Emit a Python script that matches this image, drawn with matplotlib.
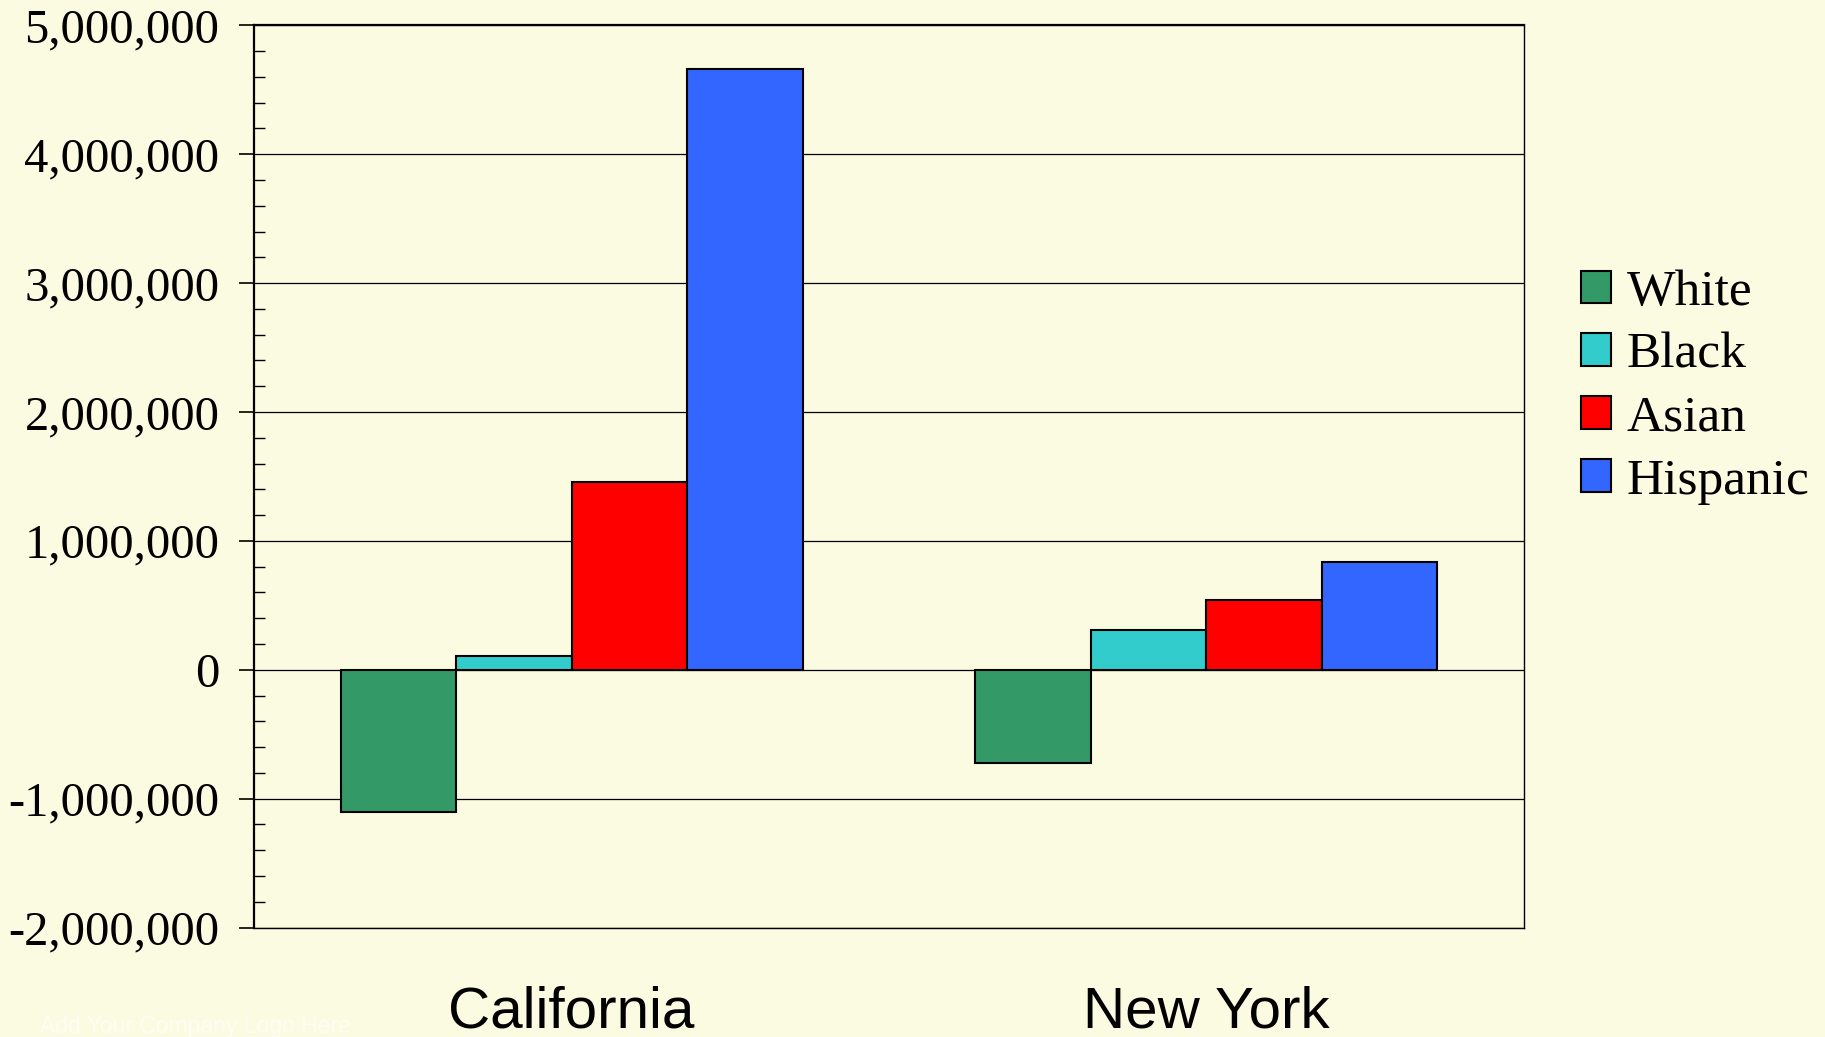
import matplotlib
matplotlib.use("Agg")
import matplotlib.pyplot as plt
import numpy as np
from matplotlib.ticker import FuncFormatter, MultipleLocator

# Population change by group
states = ["California", "New York"]
groups = ["White", "Black", "Asian", "Hispanic"]
white = [-1100000, -720000]
black = [110000, 305000]
asian = [1455000, 540000]
hispanic = [4660000, 840000]
colors = ["#339966", "#33cccc", "#ff0000", "#3366ff"]

BG = "#fbfbe1"


def main():
    fig = plt.figure(figsize=(18.25, 10.37), dpi=100, facecolor=BG)
    ax = fig.add_axes([0.1393, 0.1055, 0.6955, 0.8701], facecolor=BG)

    x = np.arange(len(states))
    width = 0.182
    series = [white, black, asian, hispanic]
    for i, (vals, name, col) in enumerate(zip(series, groups, colors)):
        offset = (i - 1.5) * width
        ax.bar(x + offset, vals, width, color=col, edgecolor="black",
               linewidth=1.5, label=name, zorder=3)

    ax.set_xlim(-0.5, 1.5)
    ax.set_ylim(-2000000, 5000000)

    # y axis
    ax.yaxis.set_major_locator(MultipleLocator(1000000))
    ax.yaxis.set_minor_locator(MultipleLocator(200000))
    ax.yaxis.set_major_formatter(FuncFormatter(lambda v, p: "{:,.0f}".format(v)))
    ax.grid(axis="y", which="major", color="black", linewidth=0.9, zorder=1)
    ax.tick_params(axis="y", which="major", direction="out", length=11,
                   width=1.2, pad=14)
    ax.tick_params(axis="y", which="minor", direction="in", length=8, width=1.0)
    for lbl in ax.get_yticklabels():
        lbl.set_fontfamily("Liberation Serif")
        lbl.set_fontsize(35)

    # x axis
    ax.set_xticks(x)
    ax.set_xticklabels(states, fontfamily="Liberation Sans", fontsize=42)
    ax.tick_params(axis="x", length=0, pad=42)

    for side in ["left", "top"]:
        ax.spines[side].set_linewidth(1.6)
    for side in ["right", "bottom"]:
        ax.spines[side].set_linewidth(1.0)

    ax.legend(loc="center left", bbox_to_anchor=(1.045, 0.599), frameon=False,
              prop={"family": "Liberation Serif", "size": 37},
              handlelength=0.6, handleheight=0.6, handletextpad=0.3,
              labelspacing=0.32, borderpad=0, borderaxespad=0)

    fig.text(0.022, 0.004, "Add Your Company Logo Here", color="#ffffff",
             alpha=0.6, fontfamily="Liberation Sans", fontsize=16.5,
             va="baseline")

    plt.savefig("out.png", dpi=100, facecolor=BG)


if __name__ == "__main__":
    main()
